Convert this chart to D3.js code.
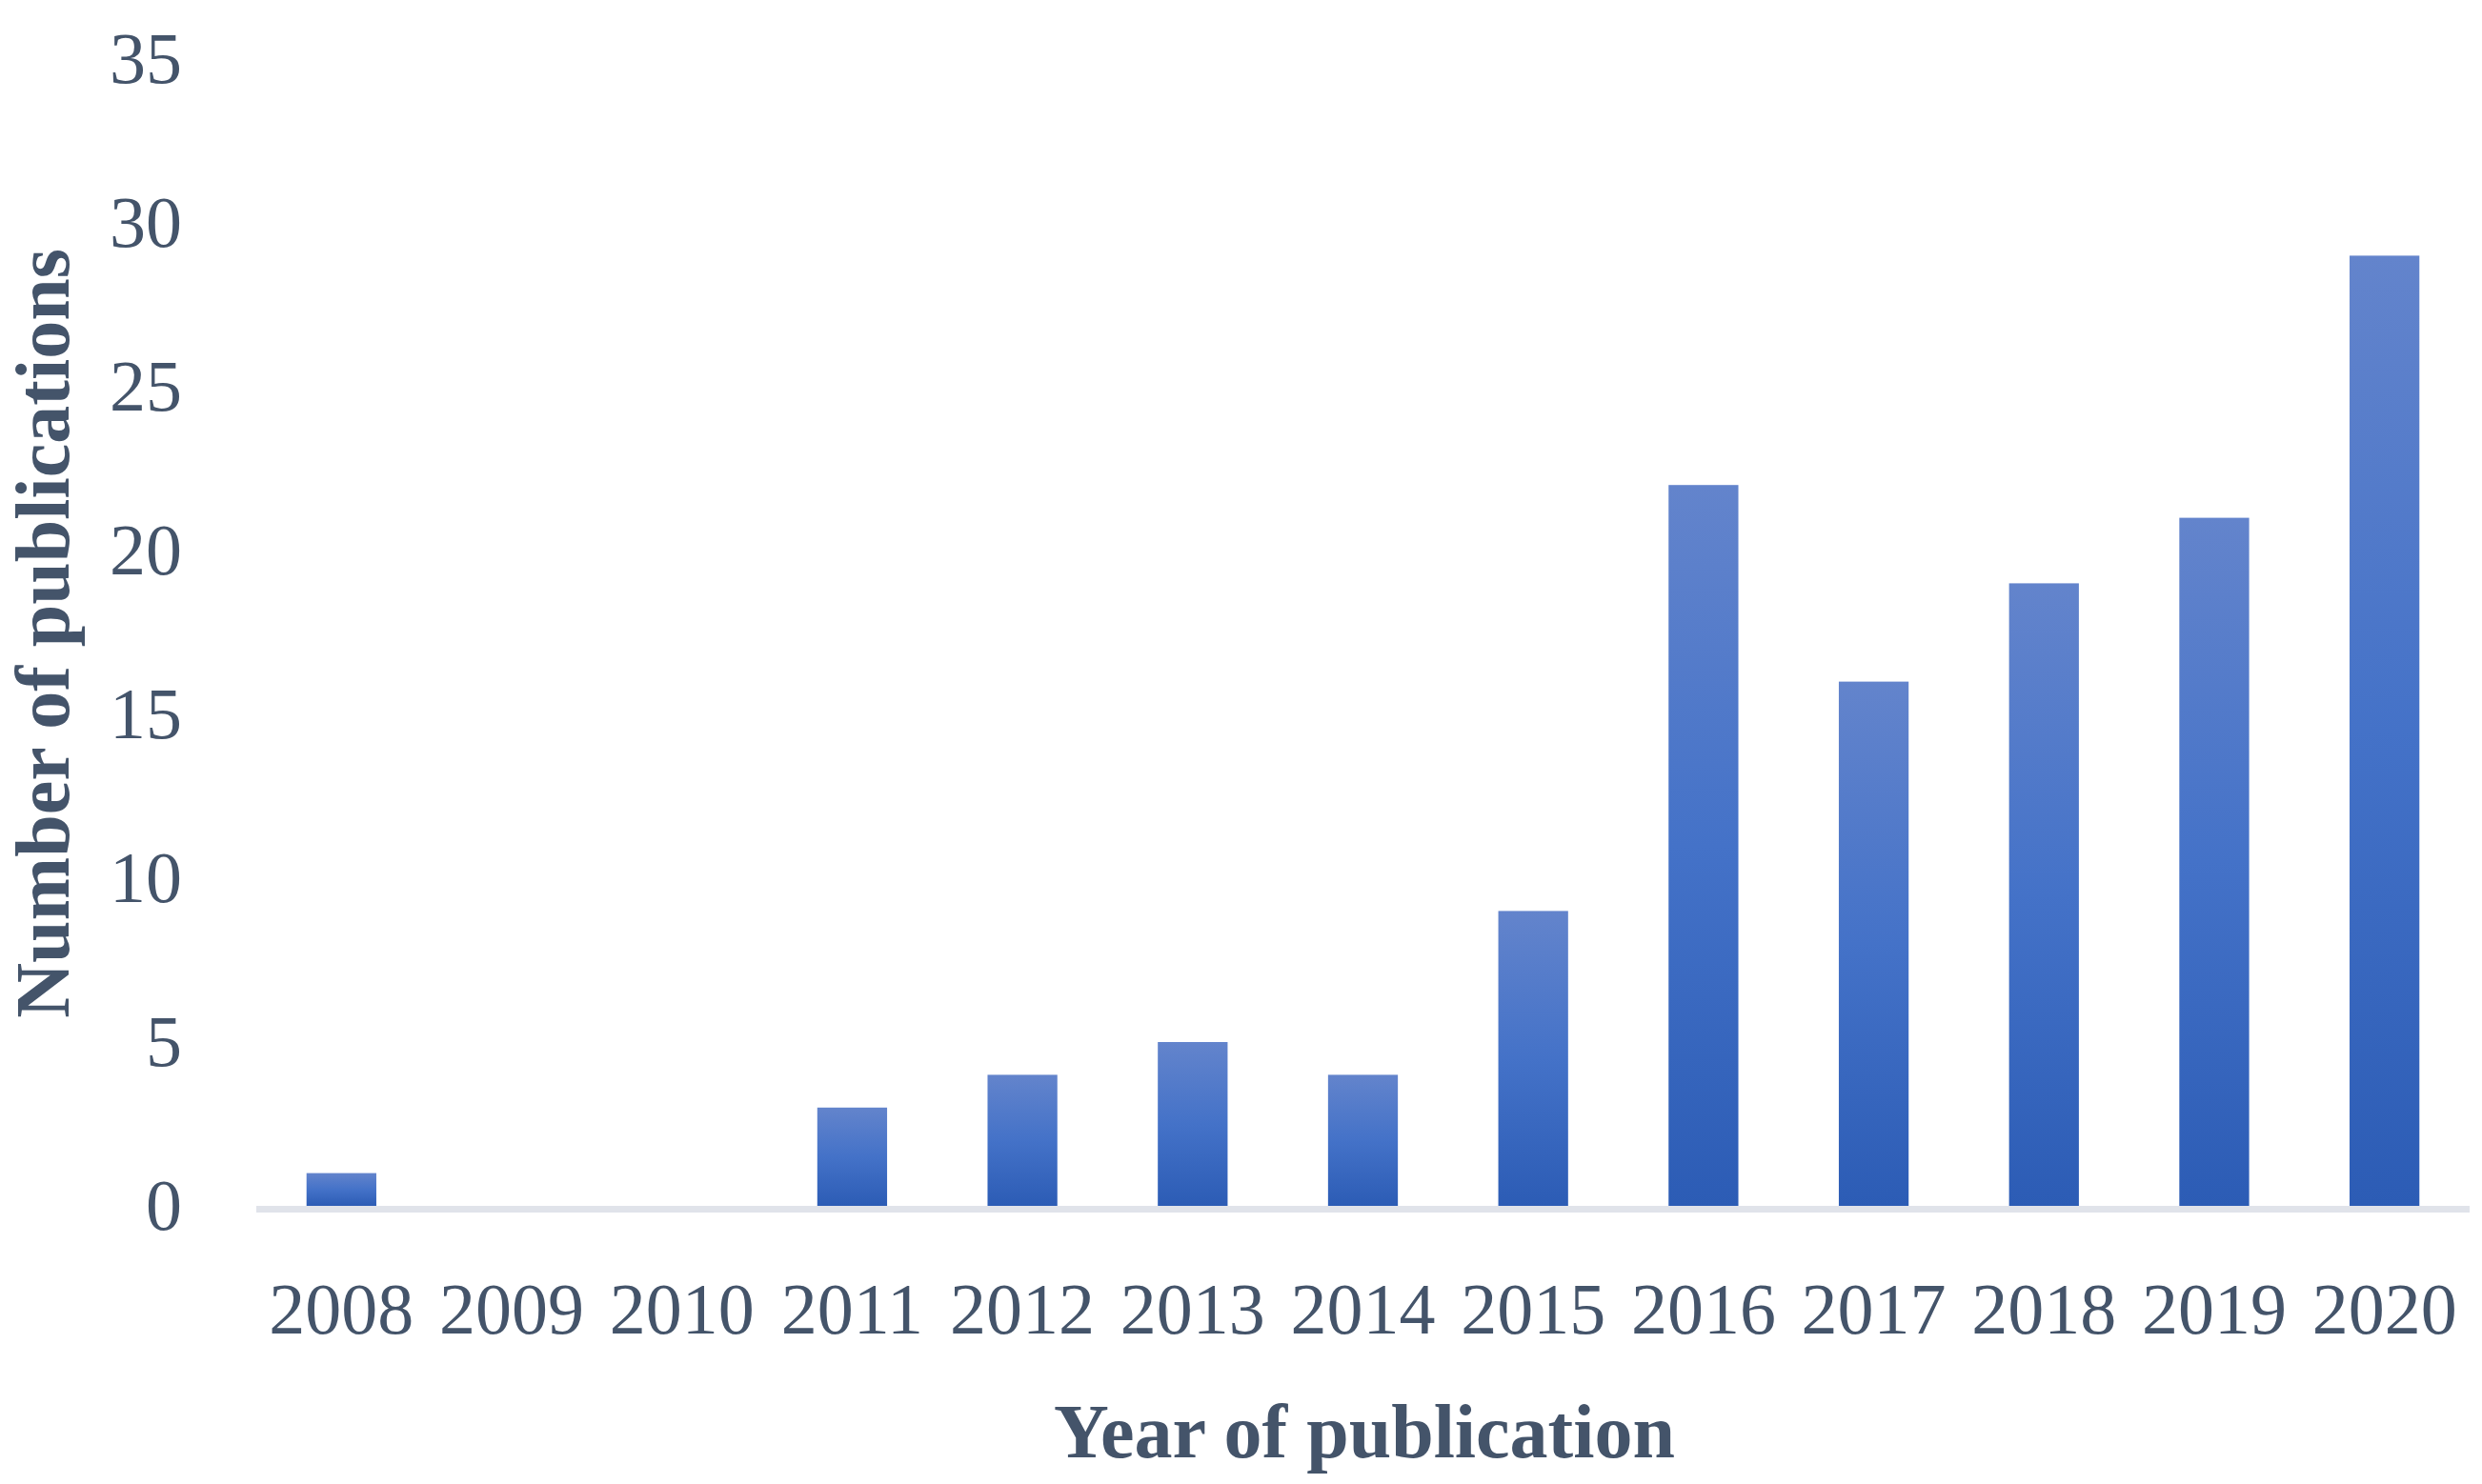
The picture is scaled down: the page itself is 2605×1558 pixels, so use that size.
<!DOCTYPE html>
<html>
<head>
<meta charset="utf-8">
<script src="https://cdn.jsdelivr.net/npm/d3@7"></script>
<style>
  body { margin: 0; background: #fff; }
  text { font-family: "Palatino Linotype", "Book Antiqua", Palatino, "Liberation Serif", serif; fill: #44546a; }
</style>
</head>
<body>
<script>
var years = ['2008', '2009', '2010', '2011', '2012', '2013', '2014', '2015', '2016', '2017', '2018', '2019', '2020'];
var publications = [1, 0, 0, 3, 4, 5, 4, 9, 22, 16, 19, 21, 29];
var yTicks = [0, 5, 10, 15, 20, 25, 30, 35];

var svgWidth = 2605;
var svgHeight = 1558;

var svg = d3.select('body')
    .append('svg')
    .attr('width', svgWidth)
    .attr('height', svgHeight);

var x = d3.scaleBand()
    .domain(years)
    .range([269, 2592])
    .paddingInner(0.59)
    .paddingOuter(0.295);

var y = d3.scaleLinear()
    .domain([0, 35])
    .range([1266, 62]);

// bar gradient, light at top, darker at the bottom
var grad = svg.append('defs')
    .append('linearGradient')
    .attr('id', 'barFill')
    .attr('x1', 0).attr('y1', 0)
    .attr('x2', 0).attr('y2', 1);
grad.append('stop').attr('offset', '0%').attr('stop-color', '#6384cc');
grad.append('stop').attr('offset', '50%').attr('stop-color', '#4472c8');
grad.append('stop').attr('offset', '100%').attr('stop-color', '#2c5cb5');

svg.selectAll('rect.bar')
    .data(publications)
    .enter()
    .append('rect')
    .attr('class', 'bar')
    .attr('x', function (d, i) { return x(years[i]); })
    .attr('width', x.bandwidth())
    .attr('y', function (d) { return y(d); })
    .attr('height', function (d) { return y(0) - y(d); })
    .attr('fill', 'url(#barFill)');

// baseline
svg.append('line')
    .attr('x1', 269)
    .attr('x2', 2592)
    .attr('y1', y(0) + 3.5)
    .attr('y2', y(0) + 3.5)
    .attr('stroke', '#e0e3ea')
    .attr('stroke-width', 7);

var yAxis = svg.append('g')
    .attr('transform', 'translate(191,0)')
    .call(d3.axisLeft(y).tickValues(yTicks).tickSize(0).tickPadding(0));
yAxis.select('.domain').remove();
yAxis.selectAll('text')
    .attr('font-size', 76)
    .style('font-family', null)
    .style('fill', '#44546a');
yAxis.attr('font-family', null);

var xAxis = svg.append('g')
    .attr('transform', 'translate(0,' + y(0) + ')')
    .call(d3.axisBottom(x).tickSize(0).tickPadding(80));
xAxis.select('.domain').remove();
xAxis.selectAll('text')
    .attr('font-size', 76);
xAxis.attr('font-family', null);

svg.append('text')
    .attr('transform', 'translate(72,665) rotate(-90)')
    .attr('text-anchor', 'middle')
    .attr('font-size', 80)
    .attr('font-weight', 'bold')
    .text('Number of publications');

svg.append('text')
    .attr('x', 1432)
    .attr('y', 1530)
    .attr('text-anchor', 'middle')
    .attr('font-size', 80)
    .attr('font-weight', 'bold')
    .text('Year of publication');
</script>
</body>
</html>
